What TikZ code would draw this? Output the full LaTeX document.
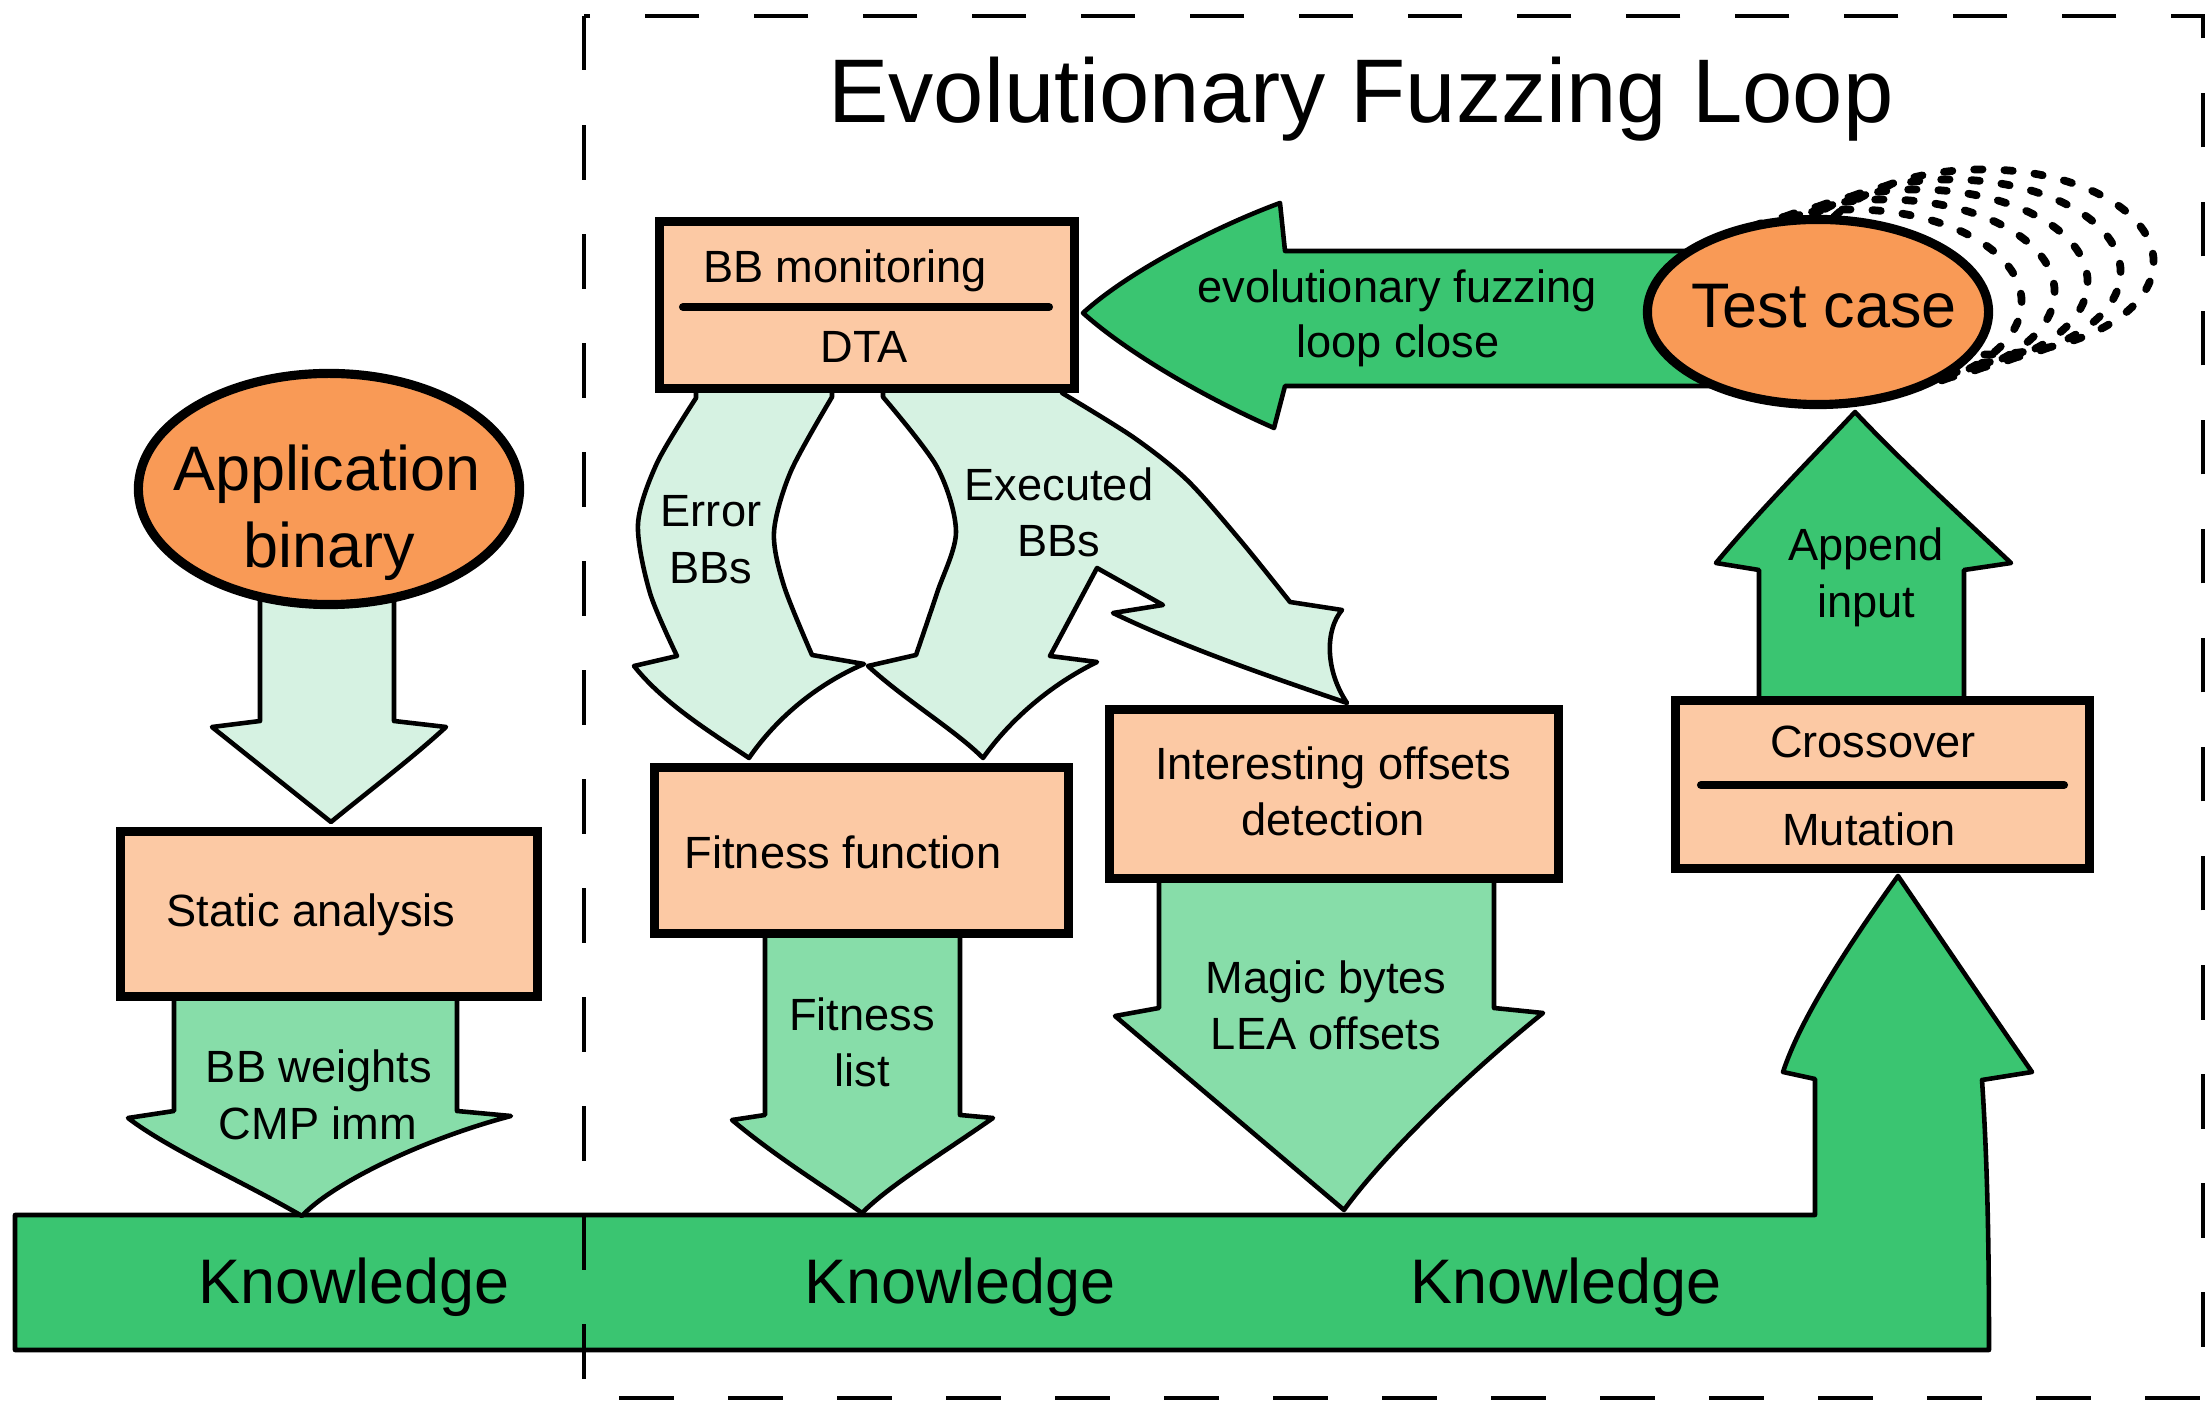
\documentclass[tikz,border=0pt]{standalone}
\usepackage{fontspec}
\setmainfont{Liberation Sans}
\usetikzlibrary{shapes.geometric}
\definecolor{dgreen}{HTML}{3AC571}
\definecolor{mgreen}{HTML}{87DDA9}
\definecolor{lgreen}{HTML}{D6F2E2}
\definecolor{peach}{HTML}{FCC9A4}
\definecolor{orangeC}{HTML}{F99A56}
\begin{document}
\begin{tikzpicture}[x=0.01cm,y=-0.01cm,
  box/.style={draw, line width=2.5pt, fill=peach, inner sep=0pt},
  blob/.style={draw, ellipse, line width=2.6pt, fill=orangeC, inner sep=0pt},
  arrowshape/.style={draw, line width=1.3pt, line join=round},
  lbl/.style={font=\fontsize{12.85}{16}\selectfont, inner sep=0pt, anchor=base},
  biglbl/.style={font=\fontsize{17.9}{22}\selectfont, inner sep=0pt, anchor=base},
  titlelbl/.style={font=\fontsize{25.7}{30}\selectfont, inner sep=0pt, anchor=base},
  divider/.style={line width=2.3pt, line cap=round},
  tcdash/.style={line width=2.2pt, line cap=round, dash pattern=on 2.4pt off 6.2pt},
  frame/.style={line width=1.4pt, dash pattern=on 15.5pt off 15.5pt}]

\useasboundingbox (0,0) rectangle (2208,1404);

% Knowledge bar with upward arrow
\draw[arrowshape, fill=dgreen] (15,1215) -- (1815,1215) -- (1815,1079) -- (1783,1072)
  .. controls (1800,1020) and (1845,950) .. (1898,876)
  .. controls (1943,942) and (1987,1007) .. (2032,1072)
  -- (1982,1080) .. controls (1988,1170) and (1989,1260) .. (1989,1350)
  -- (15,1350) -- cycle;

% medium green arrows
\draw[arrowshape, fill=mgreen] (174,995) -- (174,1111) -- (128,1118)
  .. controls (170,1150) and (240,1180) .. (302,1216)
  .. controls (330,1185) and (420,1140) .. (511,1116)
  -- (457,1111) -- (457,995) -- cycle;
\draw[arrowshape, fill=mgreen] (765,930) -- (765,1115) -- (732,1120)
  .. controls (780,1160) and (830,1190) .. (862,1213)
  .. controls (890,1185) and (940,1155) .. (993,1118)
  -- (960,1115) -- (960,930) -- cycle;
\draw[arrowshape, fill=mgreen] (1159,875) -- (1159,1008) -- (1115,1016)
  -- (1344,1210)
  .. controls (1380,1160) and (1460,1080) .. (1543,1013)
  -- (1494,1008) -- (1494,875) -- cycle;

% light green arrows
\draw[arrowshape, fill=lgreen] (260,590) -- (260,721) -- (212,727) -- (331,822)
  .. controls (370,790) and (410,760) .. (446,727) -- (394,721) -- (394,590) -- cycle;

\draw[arrowshape, fill=lgreen] (696,385)
  -- plot[smooth] coordinates {(696,398) (657,463) (638,524) (650,593) (677,656)}
  -- (634,666) .. controls (665,705) and (715,735) .. (749,758)
  .. controls (775,720) and (815,685) .. (864,664) -- (812,655)
  -- plot[smooth] coordinates {(812,655) (784,586) (774,532) (791,471) (832,397)}
  -- (832,385) -- cycle;

\draw[arrowshape, fill=lgreen] (883,385)
  -- plot[smooth] coordinates {(883,397) (937,467) (956,532) (937,593) (916,655)}
  -- (868,666) .. controls (905,700) and (955,730) .. (983,758)
  .. controls (1010,720) and (1050,685) .. (1097,662) -- (1050,656)
  -- plot[smooth] coordinates {(1050,656) (1073,613) (1097,568)}
  -- (1163,605) -- (1113,613)
  .. controls (1190,650) and (1280,680) .. (1347,703)
  .. controls (1325,670) and (1325,630) .. (1342,610) -- (1290,602)
  -- plot[smooth] coordinates {(1290,602) (1240,540) (1187,480) (1133,437) (1062,393)}
  -- (1062,385) -- cycle;

% loop close arrow
\draw[arrowshape, fill=dgreen] (1760,251) -- (1285,251) -- (1280,203)
  .. controls (1220,225) and (1130,270) .. (1083,313)
  .. controls (1130,355) and (1210,400) .. (1274,428)
  -- (1285,386) -- (1760,386) -- cycle;

% append input arrow
\draw[arrowshape, fill=dgreen] (1759,705) -- (1759,570) -- (1716,563)
  .. controls (1760,510) and (1810,460) .. (1855,412)
  .. controls (1900,460) and (1960,515) .. (2011,563)
  -- (1964,570) -- (1964,705) -- cycle;

% dashed copies of the test case
\foreach \k in {5,4,3,2,1}{
  \draw[tcdash] ({1818+33*\k},{312-10*\k}) ellipse [x radius=1.705cm, y radius=0.925cm];
}

% boxes and ellipses
\node[blob, minimum width=3.81cm, minimum height=2.31cm] (app) at (329,489) {};
\node[box, minimum width=4.17cm, minimum height=1.65cm] (stat) at (329,914) {};
\node[box, minimum width=4.15cm, minimum height=1.67cm] (bbm) at (867,305) {};
\node[box, minimum width=4.14cm, minimum height=1.66cm] (fit) at (861.5,850.5) {};
\node[box, minimum width=4.49cm, minimum height=1.69cm] (int) at (1334,794) {};
\node[box, minimum width=4.14cm, minimum height=1.68cm] (cross) at (1882.5,784.5) {};
\node[blob, minimum width=3.41cm, minimum height=1.85cm] (tc) at (1818,312) {};

\draw[divider] (683,307) -- (1049,307);
\draw[divider] (1701,785) -- (2064,785);

% labels
\node[titlelbl] (title) at (1361,123) {Evolutionary Fuzzing Loop};
\node[biglbl] (appA) at (327,491) {Application};
\node[biglbl] (appB) at (329,568) {binary};
\node[biglbl] (tcl) at (1824,328) {Test case};
\node[biglbl] (k1) at (354,1304) {Knowledge};
\node[biglbl] (k2) at (960,1304) {Knowledge};
\node[biglbl] (k3) at (1566,1304) {Knowledge};

\node[lbl] (bbmA) at (845,283) {BB monitoring};
\node[lbl] (bbmB) at (864,363) {DTA};
\node[lbl] (statl) at (311,927) {Static analysis};
\node[lbl] (fitl) at (843,869) {Fitness function};
\node[lbl] (intA) at (1333,780) {Interesting offsets};
\node[lbl] (intB) at (1333,836) {detection};
\node[lbl] (crA) at (1873,758) {Crossover};
\node[lbl] (crB) at (1869,846) {Mutation};
\node[lbl] (apA) at (1866,561) {Append};
\node[lbl] (apB) at (1866,618) {input};
\node[lbl] (lcA) at (1397,303) {evolutionary fuzzing};
\node[lbl] (lcB) at (1398,358) {loop close};
\node[lbl] (wA) at (319,1083) {BB weights};
\node[lbl] (wB) at (318,1140) {CMP imm};
\node[lbl] (flA) at (862,1031) {Fitness};
\node[lbl] (flB) at (862,1087) {list};
\node[lbl] (mbA) at (1326,994) {Magic bytes};
\node[lbl] (mbB) at (1326,1050) {LEA offsets};
\node[lbl] (erA) at (711,527) {Error};
\node[lbl] (erB) at (711,584) {BBs};
\node[lbl] (exA) at (1059,501) {Executed};
\node[lbl] (exB) at (1059,557) {BBs};

% dashed frame of the loop
\draw[frame] (584,16) rectangle (2203,1398);
\end{tikzpicture}
\end{document}
